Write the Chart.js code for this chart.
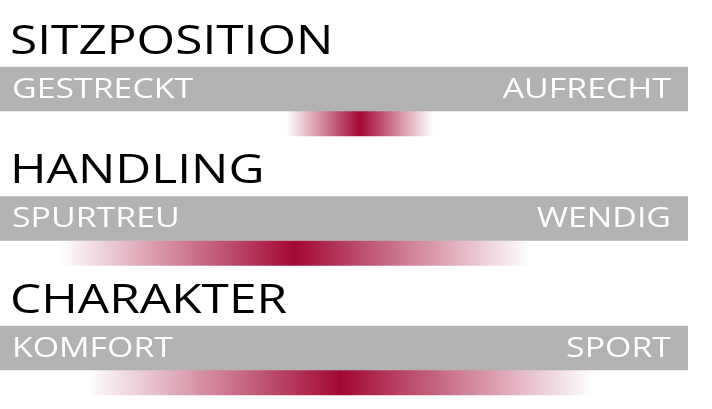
<!DOCTYPE html>
<html>
<head>
<meta charset="utf-8">
<script src="https://cdn.jsdelivr.net/npm/chart.js@4/dist/chart.umd.min.js"></script>
<style>
  html, body { margin: 0; padding: 0; background: #fff; }
  #wrap { width: 712px; height: 409px; position: relative; }
</style>
</head>
<body>
<div id="wrap"><canvas id="profileChart"></canvas></div>
<script>
// profile scales: title, left/right end labels, rated range on a 0..100 scale
const sections = ['SITZPOSITION', 'HANDLING', 'CHARAKTER'];
const leftLabels = ['GESTRECKT', 'SPURTREU', 'KOMFORT'];
const rightLabels = ['AUFRECHT', 'WENDIG', 'SPORT'];
const scaleRange = [0, 100];
const rangeStart = [41.7, 8.7, 12.8];
const rangeEnd = [62.9, 77.0, 86.2];

const GRAY = '#b2b2b2';
const PEAK = [163, 8, 52];
const STRETCH = 1.21; // source type is set wide

function rangeGradient(ctx) {
  const i = ctx.dataIndex;
  const chart = ctx.chart;
  const x = chart.scales.x;
  const solid = `rgb(${PEAK.join(',')})`;
  if (i === undefined || !x) return solid;
  const a = x.getPixelForValue(rangeStart[i]);
  const b = x.getPixelForValue(rangeEnd[i]);
  if (!isFinite(a) || !isFinite(b)) return solid;
  const g = chart.ctx.createLinearGradient(a, 0, b, 0);
  const c = PEAK.join(',');
  g.addColorStop(0, `rgba(${c},0)`);
  g.addColorStop(0.5, `rgba(${c},1)`);
  g.addColorStop(1, `rgba(${c},0)`);
  return g;
}

function wideText(ctx, text, x, y, align) {
  ctx.save();
  ctx.translate(x, y);
  ctx.scale(STRETCH, 1);
  ctx.textAlign = align;
  ctx.fillText(text, 0, 0);
  ctx.restore();
}

const labelPlugin = {
  id: 'scaleLabels',
  afterDatasetsDraw(chart) {
    const { ctx } = chart;
    const x = chart.scales.x;
    const y = chart.scales.yGray;
    const half = 22;
    ctx.save();
    ctx.textBaseline = 'alphabetic';
    sections.forEach((name, i) => {
      const top = y.getPixelForValue(i) - half;
      const left = x.getPixelForValue(scaleRange[0]);
      const right = x.getPixelForValue(scaleRange[1]);

      ctx.fillStyle = '#000';
      ctx.font = '41px "Open Sans"';
      wideText(ctx, name, left + 10, top - 13, 'left');

      ctx.fillStyle = '#fff';
      ctx.font = '28px "Open Sans"';
      wideText(ctx, leftLabels[i], left + 12, top + 31, 'left');
      wideText(ctx, rightLabels[i], right - 17, top + 31, 'right');
    });
    ctx.restore();
  }
};

const rowAxis = { type: 'linear', axis: 'y', reverse: true, display: false, offset: false, bounds: 'data', grace: 0 };

new Chart(document.getElementById('profileChart'), {
  type: 'bar',
  data: {
    datasets: [
      {
        label: 'Skala',
        data: sections.map((_, i) => ({ y: i, x: scaleRange })),
        yAxisID: 'yGray',
        backgroundColor: GRAY,
        barThickness: 44,
        grouped: false
      },
      {
        label: 'Bewertung',
        data: sections.map((_, i) => ({ y: i, x: [rangeStart[i], rangeEnd[i]] })),
        yAxisID: 'yGrad',
        backgroundColor: rangeGradient,
        barThickness: 25,
        grouped: false
      }
    ]
  },
  options: {
    indexAxis: 'y',
    responsive: true,
    maintainAspectRatio: false,
    animation: false,
    layout: { padding: { left: 0, right: 24, top: 0, bottom: 0 } },
    plugins: { legend: { display: false }, tooltip: { enabled: false } },
    scales: {
      x: { type: 'linear', min: scaleRange[0], max: scaleRange[1], display: false },
      yGray: { ...rowAxis, min: -0.687, max: 2.471 },
      yGrad: { ...rowAxis, min: -0.954, max: 2.205 }
    }
  },
  plugins: [labelPlugin]
});
</script>
</body>
</html>
